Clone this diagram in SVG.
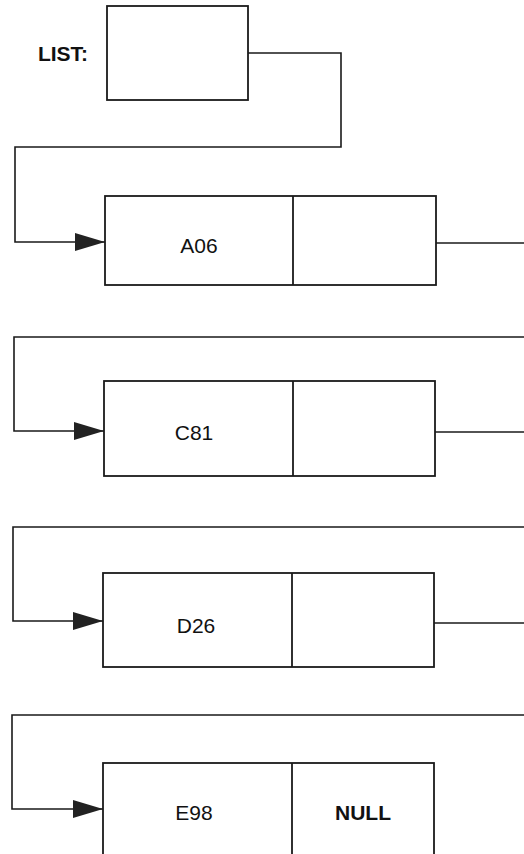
<svg xmlns="http://www.w3.org/2000/svg" width="524" height="854" viewBox="0 0 524 854">
<defs>
<style>
.box{fill:none;stroke:#1a1a1a;stroke-width:1.8}
.ln{fill:none;stroke:#1a1a1a;stroke-width:1.6}
.t{font-family:"Liberation Sans",Arial,sans-serif;font-size:21px;fill:#111;text-anchor:middle;dominant-baseline:central}
.b{font-weight:bold}
</style>
<marker id="ah" markerWidth="30" markerHeight="20" refX="30" refY="10" orient="auto" markerUnits="userSpaceOnUse">
<path d="M0,1 L30,10 L0,19 Z" fill="#222"/>
</marker>
</defs>
<rect width="524" height="854" fill="#fff"/>
<g id="list">
<text class="t b" x="63" y="53">LIST:</text>
<rect class="box" x="107" y="6" width="141" height="94"/>
</g>
<g id="nodeA06">
<rect class="box" x="105" y="196" width="331" height="89"/>
<line class="box" x1="293" y1="196" x2="293" y2="285"/>
<text class="t" x="199" y="245">A06</text>
</g>
<g id="nodeC81">
<rect class="box" x="104" y="381" width="331" height="95"/>
<line class="box" x1="293" y1="381" x2="293" y2="476"/>
<text class="t" x="194" y="432">C81</text>
</g>
<g id="nodeD26">
<rect class="box" x="103" y="573" width="331" height="94"/>
<line class="box" x1="292" y1="573" x2="292" y2="667"/>
<text class="t" x="196" y="625">D26</text>
</g>
<g id="nodeE98">
<rect class="box" x="103" y="763" width="331" height="100"/>
<line class="box" x1="292" y1="763" x2="292" y2="863"/>
<text class="t" x="194" y="812">E98</text>
<text class="t b" x="363" y="812">NULL</text>
</g>
<g id="connectors">
<polyline class="ln" points="248,53 341,53 341,147 15,147 15,242 105,242" marker-end="url(#ah)"/>
<line class="ln" x1="436" y1="243" x2="524" y2="243"/>
<polyline class="ln" points="524,337 14,337 14,431 104,431" marker-end="url(#ah)"/>
<line class="ln" x1="435" y1="432" x2="524" y2="432"/>
<polyline class="ln" points="524,527 13,527 13,621 103,621" marker-end="url(#ah)"/>
<line class="ln" x1="434" y1="623" x2="524" y2="623"/>
<polyline class="ln" points="524,715 12,715 12,809 103,809" marker-end="url(#ah)"/>
</g>
</svg>
